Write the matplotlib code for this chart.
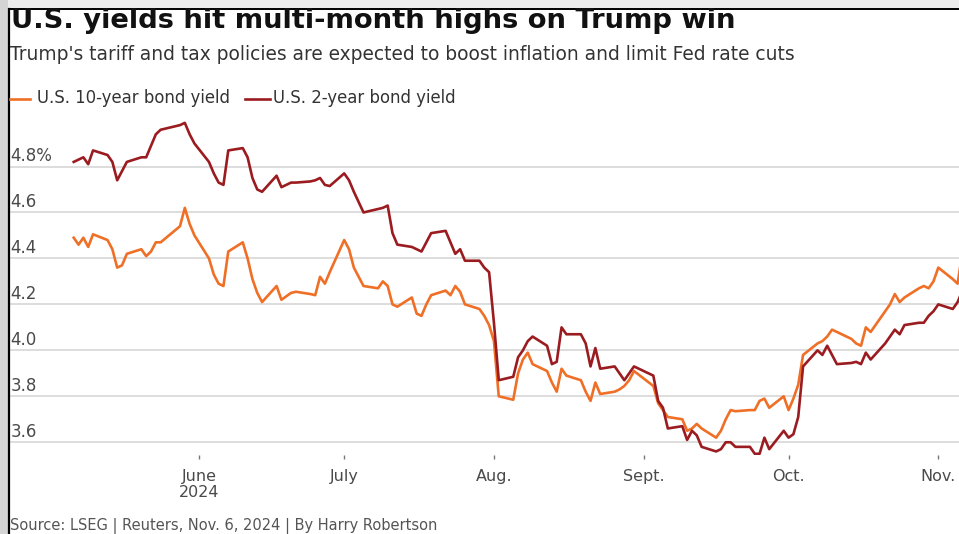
import matplotlib.pyplot as plt
import matplotlib.dates as mdates
import pandas as pd
from matplotlib.lines import Line2D
from matplotlib.patches import Rectangle

# trading days shown on the chart (U.S. bond market holidays left out)
START, END = "2024-05-06", "2024-11-06"
HOLIDAYS = ["2024-05-27", "2024-06-19", "2024-07-04", "2024-09-02"]

# U.S. 10-year yield, %, one value per trading day
TEN_YEAR = [
    # May
    4.49, 4.46, 4.49, 4.45, 4.505, 4.48, 4.44, 4.36, 4.37, 4.42, 4.44, 4.41, 4.43, 4.47, 4.47, 4.54, 4.62, 4.55, 4.50,
    # June
    4.40, 4.33, 4.29, 4.28, 4.43, 4.47, 4.40, 4.31, 4.25, 4.21, 4.28, 4.22, 4.25, 4.255, 4.245, 4.24, 4.32, 4.29, 4.34,
    # July
    4.48, 4.44, 4.36, 4.28, 4.27, 4.30, 4.28, 4.20, 4.19, 4.23, 4.16, 4.15, 4.20, 4.24, 4.26, 4.24, 4.28, 4.255, 4.20,
    4.18, 4.15, 4.11,
    # Aug.
    4.04, 3.80, 3.785, 3.90, 3.96, 3.99, 3.94, 3.91, 3.86, 3.82, 3.92, 3.89, 3.87, 3.82, 3.78, 3.86, 3.81, 3.82, 3.83,
    3.845, 3.87, 3.91,
    # Sept.
    3.845, 3.77, 3.74, 3.71, 3.70, 3.65, 3.66, 3.68, 3.66, 3.62, 3.65, 3.70, 3.74, 3.735, 3.74, 3.74, 3.78, 3.79, 3.75,
    3.80,
    # Oct.
    3.74, 3.79, 3.85, 3.98, 4.03, 4.04, 4.06, 4.09, 4.08, 4.05, 4.03, 4.02, 4.10, 4.08, 4.17, 4.20, 4.245, 4.21, 4.23,
    4.27, 4.28, 4.27, 4.30,
    # Nov.
    4.36, 4.31, 4.29, 4.43,
]

# U.S. 2-year yield, %
TWO_YEAR = [
    # May
    4.82, 4.83, 4.84, 4.81, 4.87, 4.85, 4.82, 4.74, 4.78, 4.82, 4.84, 4.84, 4.89, 4.94, 4.96, 4.98, 4.99, 4.94, 4.90,
    # June
    4.82, 4.77, 4.73, 4.72, 4.87, 4.88, 4.84, 4.75, 4.70, 4.69, 4.76, 4.71, 4.73, 4.73, 4.735, 4.74, 4.75, 4.72, 4.715,
    # July
    4.77, 4.74, 4.69, 4.60, 4.615, 4.62, 4.63, 4.51, 4.46, 4.45, 4.44, 4.43, 4.47, 4.51, 4.52, 4.47, 4.42, 4.44, 4.39,
    4.39, 4.36, 4.34,
    # Aug.
    4.12, 3.87, 3.885, 3.97, 4.00, 4.04, 4.06, 4.02, 3.94, 3.95, 4.10, 4.07, 4.07, 4.03, 3.93, 4.01, 3.92, 3.93, 3.90,
    3.87, 3.90, 3.93,
    # Sept.
    3.89, 3.78, 3.75, 3.66, 3.67, 3.61, 3.65, 3.63, 3.58, 3.56, 3.57, 3.60, 3.60, 3.58, 3.58, 3.55, 3.55, 3.62, 3.57,
    3.65,
    # Oct.
    3.62, 3.635, 3.71, 3.93, 4.00, 3.98, 4.02, 3.98, 3.94, 3.945, 3.95, 3.94, 3.99, 3.96, 4.03, 4.06, 4.09, 4.07, 4.11,
    4.12, 4.12, 4.15, 4.17,
    # Nov.
    4.20, 4.18, 4.21, 4.26,
]

Y_TICKS = [3.6, 3.8, 4.0, 4.2, 4.4, 4.6, 4.8]
Y_LABELS = ["3.6", "3.8", "4.0", "4.2", "4.4", "4.6", "4.8%"]
MONTH_TICKS = ["2024-06-01", "2024-07-01", "2024-08-01", "2024-09-01", "2024-10-01", "2024-11-01"]
MONTH_LABELS = ["June\n2024", "July", "Aug.", "Sept.", "Oct.", "Nov."]

ORANGE = "#f06f26"
DARK_RED = "#9b1c20"
GRID = "#dadada"

W, H = 959, 534


def fx(px):
    return px / W


def fy(py):
    return 1 - py / H


def main() -> None:
    plt.rcParams["font.family"] = ["DejaVu Sans"]
    dates = pd.bdate_range(START, END, freq="C", holidays=HOLIDAYS)

    fig = plt.figure(figsize=(W / 100, H / 100), dpi=100)
    fig.patch.set_facecolor("#ededed")
    # screenshot frame: grey margin, white card, black edges
    fig.add_artist(Rectangle((0, 0), fx(8), 1, transform=fig.transFigure, facecolor="#d4d4d4",
                             edgecolor="none", zorder=0))
    fig.add_artist(Rectangle((fx(9), 0), 1 - fx(9), fy(9), transform=fig.transFigure, facecolor="white",
                             edgecolor="none", zorder=0))

    ax = fig.add_axes([fx(10), fy(455), fx(959 - 10), (455 - 115) / H])
    ax.patch.set_visible(False)

    ax.plot(dates, TEN_YEAR, color=ORANGE, lw=1.9, solid_joinstyle="round", zorder=3)
    ax.plot(dates, TWO_YEAR, color=DARK_RED, lw=1.9, solid_joinstyle="round", zorder=4)

    june = mdates.date2num(pd.Timestamp("2024-06-01"))
    px_per_day = 4.83
    ax.set_xlim(june + (10 - 199.3) / px_per_day, june + (959 - 199.3) / px_per_day)
    ax.set_ylim(4.8 - (455 - 166.5) / 229.8, 4.8 + (166.5 - 115) / 229.8)

    for spine in ax.spines.values():
        spine.set_visible(False)

    ax.set_yticks(Y_TICKS)
    ax.yaxis.grid(True, color=GRID, lw=1.3)
    ax.tick_params(axis="y", length=0, labelleft=False)
    for value, label in zip(Y_TICKS, Y_LABELS):
        ax.annotate(label, xy=(0, value), xycoords=("axes fraction", "data"), xytext=(0.5, 4),
                    textcoords="offset points", va="baseline", ha="left", fontsize=12, color="#4a4a4a")

    ax.set_xticks(pd.to_datetime(MONTH_TICKS))
    ax.set_xticklabels(MONTH_LABELS, fontsize=11.5, color="#4a4a4a", linespacing=1.1)
    ax.tick_params(axis="x", length=3, width=1, color="#777777", pad=7)

    # frame edges
    fig.add_artist(Line2D([fx(9), fx(9)], [0, fy(9)], color="black", lw=1.6))
    fig.add_artist(Line2D([fx(9), 1], [fy(9), fy(9)], color="black", lw=1.4))

    fig.text(fx(11), fy(27.5), "U.S. yields hit multi-month highs on Trump win", fontsize=19.7,
             fontweight="bold", color="#111111", va="baseline")
    fig.text(fx(10), fy(60), "Trump's tariff and tax policies are expected to boost inflation and limit Fed rate cuts",
             fontsize=13.4, color="#333333", va="baseline")

    # legend
    fig.add_artist(Line2D([fx(10), fx(30)], [fy(99), fy(99)], color=ORANGE, lw=1.9))
    fig.text(fx(37), fy(103), "U.S. 10-year bond yield", fontsize=11.9, color="#333333", va="baseline")
    fig.add_artist(Line2D([fx(245), fx(270)], [fy(99), fy(99)], color=DARK_RED, lw=1.9))
    fig.text(fx(273), fy(103), "U.S. 2-year bond yield", fontsize=11.9, color="#333333", va="baseline")

    fig.text(fx(10), fy(530.5), "Source: LSEG | Reuters, Nov. 6, 2024 | By Harry Robertson", fontsize=10.5,
             color="#555555", va="baseline")

    fig.savefig("out.png", dpi=100, facecolor=fig.get_facecolor())
    plt.close(fig)


if __name__ == "__main__":
    main()
